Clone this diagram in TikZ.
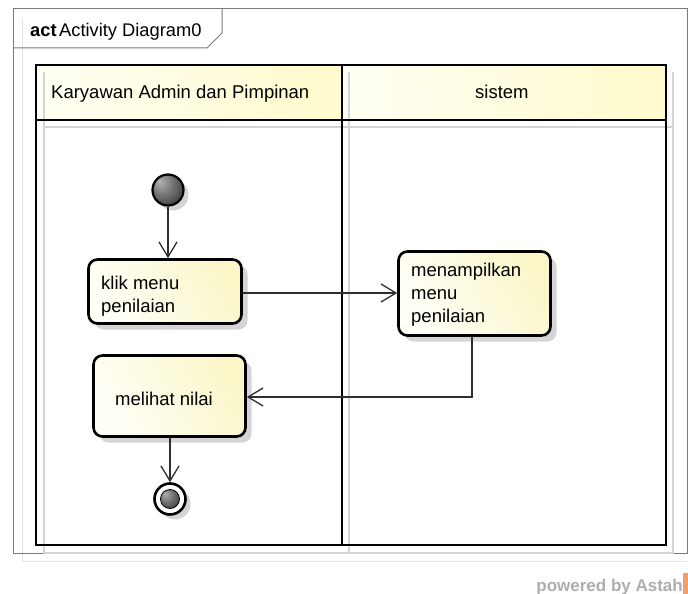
\documentclass[tikz,border=0pt]{standalone}
\usepackage{fontspec}
\setmainfont{Liberation Sans}
\usetikzlibrary{arrows.meta,shadows}

\definecolor{nodehi}{HTML}{FFFFF8}
\definecolor{nodelo}{HTML}{FAF6C8}
\definecolor{headhi}{HTML}{FFFFF4}
\definecolor{headlo}{HTML}{FFFBCC}
\definecolor{shadowgray}{HTML}{D4D4D4}
\definecolor{framegray}{HTML}{7A7A7A}
\definecolor{edgegray}{HTML}{2E2E2E}
\definecolor{astahorange}{HTML}{F0A070}

% gray dot, lit from the upper left
\pgfdeclareradialshading{graydot}{\pgfpoint{-14bp}{14bp}}{%
  color(0bp)=(black!30); color(18bp)=(black!55); color(40bp)=(black!82); color(60bp)=(black!85)}

\begin{document}
\begin{tikzpicture}[x=1pt,y=-1pt,
  lbl/.style={font=\fontsize{18.5}{23}\selectfont, inner sep=0pt, anchor=base west, align=left},
  actbox/.style={draw=black, line width=2.6pt, rounded corners=9pt,
    left color=nodehi, right color=nodelo, shading angle=120,
    drop shadow={shadow xshift=6pt, shadow yshift=-6pt, fill=shadowgray, opacity=1}},
  flow/.style={draw=edgegray, line width=1.3pt,
    -{Straight Barb[length=15pt, width=18pt, line width=1.3pt]}},
  lane/.style={draw=black, line width=2.6pt},
  laneshadow/.style={draw=shadowgray, line width=1.6pt},
  dot/.style={circle, shading=graydot, inner sep=0pt},
]
\useasboundingbox (0,0) rectangle (688,594);

% diagram frame with its name tab
\draw[black!10, line width=1pt] (22,18) -- (22,561) -- (688,561);
\draw[framegray, line width=1pt] (13,9) rectangle (687,553);
\draw[framegray, line width=1pt] (13,48) -- (207,48) -- (222,33) -- (222,9);
\node[font=\fontsize{18.3}{20}\selectfont, inner sep=0pt, anchor=base west] (frametitle)
  at (30,37) {\textbf{act}\kern2.5pt Activity Diagram0};

% partition headers
\shade[left color=headhi, right color=headlo] (36,65) rectangle (342,120);
\shade[left color=headhi, right color=headlo] (342,65) rectangle (666,120);

% partition shadows
\draw[laneshadow] (44,72) -- (44,553) -- (673,553) -- (673,72);
\draw[laneshadow] (44,127) -- (673,127);
\draw[laneshadow] (349,72) -- (349,553);

% partitions
\draw[lane] (36,65) rectangle (666,545);
\draw[lane] (36,120) -- (666,120);
\draw[lane] (342,65) -- (342,545);

\node[lbl] (laneA) at (51,99) {Karyawan Admin dan Pimpinan};
\node[lbl] (laneB) at (475,99) {sistem};

% initial node
\node[dot, draw=black, line width=2.2pt, minimum size=31pt,
  drop shadow={shadow xshift=5pt, shadow yshift=-5pt, fill=shadowgray, opacity=1}]
  (init) at (168,190) {};

% actions
\node[actbox, minimum width=153pt, minimum height=64pt] (klik) at (165,291.5) {};
\node[lbl] (klikA) at (101,289) {klik menu};
\node[lbl] (klikB) at (101,312) {penilaian};

\node[actbox, minimum width=152pt, minimum height=84pt] (menu) at (474.5,293.5) {};
\node[lbl] (menuA) at (411,276) {menampilkan};
\node[lbl] (menuB) at (411,299) {menu};
\node[lbl] (menuC) at (411,322) {penilaian};

\node[actbox, minimum width=152pt, minimum height=81pt] (lihat) at (169.5,396) {};
\node[lbl] (lihatA) at (115,405) {melihat nilai};

% final node
\node[circle, draw=black, line width=2.6pt, fill=white, minimum size=31pt, inner sep=0pt,
  drop shadow={shadow xshift=5pt, shadow yshift=-5pt, fill=shadowgray, opacity=1}]
  (fin) at (170,499) {};
\node[dot, draw=black, line width=0.8pt, minimum size=19pt] (fincore) at (fin.center) {};

% control flows
\draw[flow] (init.south) -- (init.south |- klik.north);
\draw[flow] (klik.east |- 0,293) -- (menu.west |- 0,293);
\draw[flow] (menu.south -| 472,0) |- (lihat.east |- 0,397);
\draw[flow] (lihat.south -| fin.north) -- (fin.north);

% tool mark
\fill[astahorange] (683,573) rectangle (688,594);
\node[font=\fontsize{17}{17}\selectfont\bfseries, text=black!32, inner sep=0pt, anchor=base east]
  (powered) at (683,591) {powered by Astah};
\end{tikzpicture}
\end{document}
